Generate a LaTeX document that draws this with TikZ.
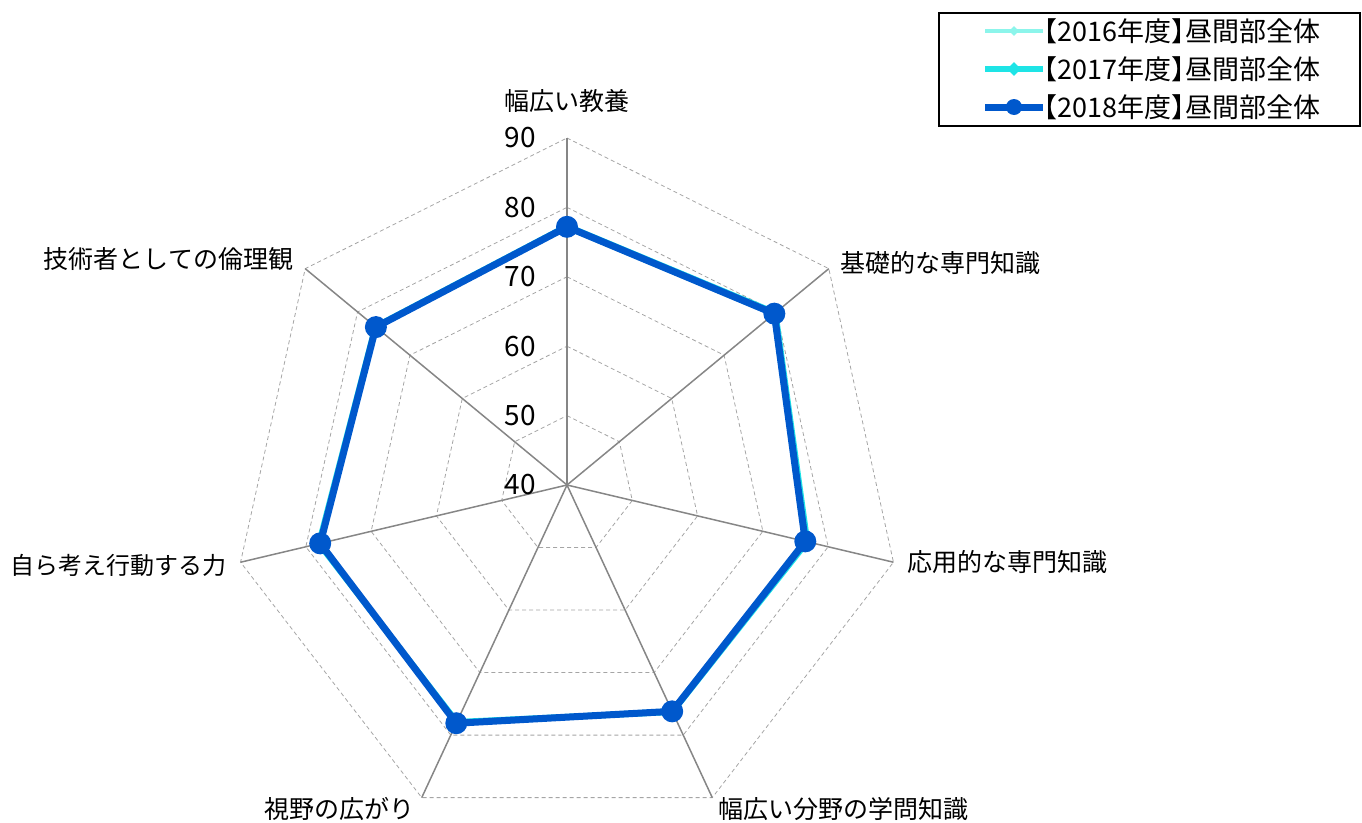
\documentclass[tikz,border=0pt]{standalone}
\usepackage{fontspec}
\setmainfont{Noto Sans CJK JP}
\newfontfamily\legendfont[RawFeature=+halt]{Noto Sans CJK JP}
\usepackage{tikz}
\usetikzlibrary{calc,shapes.geometric}
\definecolor{c2016}{RGB}{140,245,235}
\definecolor{c2017}{RGB}{30,228,230}
\definecolor{c2018}{RGB}{0,88,204}
\definecolor{gridgray}{RGB}{165,165,165}
\definecolor{spokegray}{RGB}{134,134,134}
\tikzstyle{ring} = [gridgray, line width=0.8pt, dash pattern=on 4pt off 3pt]
\tikzstyle{spoke} = [spokegray, line width=1.5pt]
\tikzstyle{axislabel} = [inner sep=0pt, font=\fontsize{25}{30}\selectfont]
\tikzstyle{legendtext} = [inner sep=0pt, anchor=west, font=\legendfont\fontsize{27}{30}\selectfont]
\tikzstyle{ticklabel} = [inner sep=0pt, anchor=east, font=\fontsize{28}{32}\selectfont]
\tikzstyle{line2016} = [c2016, line width=4pt, line join=round]
\tikzstyle{line2017} = [c2017, line width=6pt, line join=round]
\tikzstyle{line2018} = [c2018, line width=7pt, line join=round]
\tikzstyle{dot2016} = [diamond, fill=c2016, inner sep=0pt, minimum size=10pt]
\tikzstyle{dot2017} = [diamond, fill=c2017, inner sep=0pt, minimum size=14pt]
\tikzstyle{dot2018} = [circle, fill=c2018, inner sep=0pt, minimum size=22pt]

\begin{document}
\begin{tikzpicture}[x=1pt,y=-1pt]
\useasboundingbox (0,0) rectangle (1362,822);
\begin{scope}[shift={(567,485)},x=0.965pt,y=1pt]
    \coordinate (o) at (0,0);
    % grid rings 50..90
    \foreach \r in {69.4,138.8,208.2,277.6,347}
        \draw [ring] (90:\r) \foreach \k in {1,...,6} {-- ({90-\k*360/7}:\r)} -- cycle;
    \foreach \k in {0,...,6} \coordinate (a\k) at ({90-\k*360/7}:347);
    \foreach \k in {0,...,6} \draw [spoke] (o) -- (a\k);
    % data
    \foreach \v [count=\k from 0] in {77.0,79.4,76.4,76.0,78.0,77.7,76.4}
        \coordinate (q\k) at ({90-\k*360/7}:{(\v-40)*6.94});
    \foreach \v [count=\k from 0] in {77.3,79.8,76.8,76.3,77.9,78.0,76.6}
        \coordinate (s\k) at ({90-\k*360/7}:{(\v-40)*6.94});
    \foreach \v [count=\k from 0] in {77.2,79.6,76.5,76.2,78.1,77.8,76.5}
        \coordinate (p\k) at ({90-\k*360/7}:{(\v-40)*6.94});
\end{scope}
\foreach \t [count=\i from 0] in {40,50,60,70,80,90}
    \node [ticklabel] (tick\t) at (536,{485-\i*69.4}) {\t};
\draw [line2016] (q0) -- (q1) -- (q2) -- (q3) -- (q4) -- (q5) -- (q6) -- cycle;
\foreach \k in {0,...,6} \node [dot2016] (m\k) at (q\k) {};
\draw [line2017] (s0) -- (s1) -- (s2) -- (s3) -- (s4) -- (s5) -- (s6) -- cycle;
\foreach \k in {0,...,6} \node [dot2017] (n\k) at (s\k) {};
\draw [line2018] (p0) -- (p1) -- (p2) -- (p3) -- (p4) -- (p5) -- (p6) -- cycle;
\foreach \k in {0,...,6} \node [dot2018] (d\k) at (p\k) {};
% axis labels
\node (l0) [axislabel] at ([yshift=37pt]a0) {幅広い教養};
\node (l1) [axislabel,anchor=west] at ([xshift=11pt,yshift=6pt]a1) {基礎的な専門知識};
\node (l2) [axislabel,anchor=west] at ([xshift=14pt]a2) {応用的な専門知識};
\node (l3) [axislabel,anchor=west] at ([xshift=6pt,yshift=-11pt]a3) {幅広い分野の学問知識};
\node (l4) [axislabel,anchor=east] at ([xshift=-7pt,yshift=-11pt]a4) {視野の広がり};
\node (l5) [axislabel,anchor=east,font=\fontsize{24}{30}\selectfont] at ([xshift=-14pt,yshift=-3pt]a5) {自ら考え行動する力};
\node (l6) [axislabel,anchor=east] at ([xshift=-12pt,yshift=10pt]a6) {技術者としての倫理観};
% legend
\node (legend) [draw,line width=1.5pt,anchor=north west,minimum width=421pt,minimum height=113pt] at (938,12) {};
\coordinate (k16) at (985,31);
\coordinate (k17) at (985,69);
\coordinate (k18) at (985,107);
\draw [line2016] (k16) -- ++(58,0);
\node (km16) [dot2016] at ($(k16)+(29,0)$) {};
\draw [line2017] (k17) -- ++(58,0);
\node (km17) [dot2017] at ($(k17)+(29,0)$) {};
\draw [line2018] (k18) -- ++(58,0);
\node (km18) [dot2018,minimum size=16pt] at ($(k18)+(29,0)$) {};
\node (t16) [legendtext] at ($(k16)+(59,0)$) {【2016年度】昼間部全体};
\node (t17) [legendtext] at ($(k17)+(59,0)$) {【2017年度】昼間部全体};
\node (t18) [legendtext] at ($(k18)+(59,0)$) {【2018年度】昼間部全体};
\end{tikzpicture}
\end{document}
